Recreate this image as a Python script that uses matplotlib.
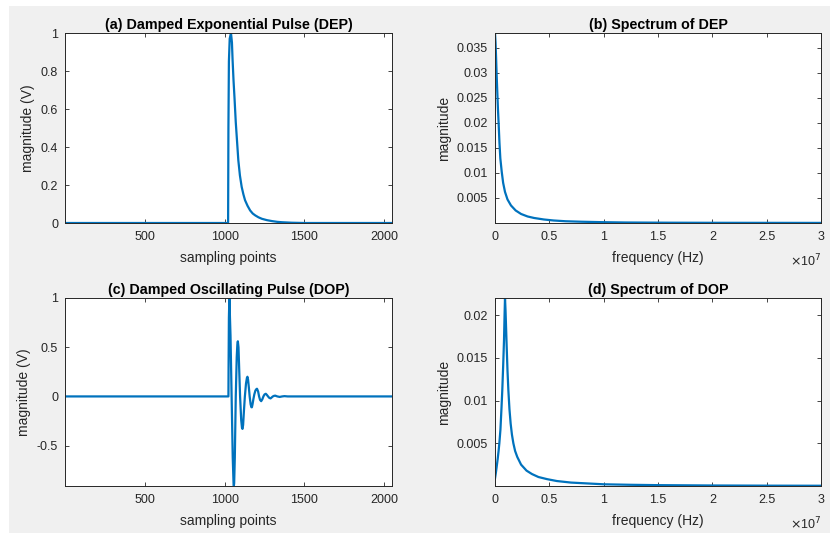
import matplotlib.pyplot as plt
from matplotlib.patches import Rectangle

# values
# (a) damped exponential pulse, time domain
dep_x = [1, 1022, 1024, 1027, 1032, 1040, 1046, 1050, 1056, 1062, 1070, 1078, 1086, 1096, 1107,
         1118, 1128, 1144, 1160, 1176, 1192, 1212, 1234, 1265, 1297, 1330, 1360, 1420, 1500, 2048]
dep_y = [0, 0, 0.5, 0.85, 0.97, 1.0, 0.95, 0.86, 0.75, 0.66, 0.53, 0.43, 0.33, 0.25, 0.19,
         0.15, 0.12, 0.09, 0.066, 0.05, 0.04, 0.03, 0.022, 0.015, 0.01, 0.006, 0.004, 0.0015, 0, 0]

# (b) spectrum of DEP
dep_f = [0, 0.5e5, 1e5, 1.5e5, 2.1e5, 2.7e5, 3.4e5, 4.1e5, 4.9e5, 6.2e5, 7.5e5, 9.2e5, 1.15e6,
         1.47e6, 1.9e6, 2.4e6, 3e6, 3.6e6, 4.5e6, 5.4e6, 6.5e6, 8e6, 1e7, 1.2e7, 1.6e7, 2e7,
         2.5e7, 3e7]
dep_m = [0.0379, 0.036, 0.033, 0.0296, 0.0262, 0.0228, 0.0196, 0.016, 0.0129, 0.0102, 0.008,
         0.0062, 0.0047, 0.0035, 0.0025, 0.0018, 0.0013, 0.001, 0.0007, 0.0005, 0.00035, 0.00025,
         0.00016, 0.0001, 0.00006, 0.00004, 0.00003, 0.00002]

# (c) damped oscillating pulse, time domain
dop_x = [1, 1024, 1025, 1027, 1030, 1037, 1044, 1051, 1056, 1058, 1060, 1064, 1070, 1076, 1080,
         1083, 1087, 1091, 1097, 1104, 1109, 1112, 1116, 1121, 1127, 1134, 1140, 1143, 1147, 1152,
         1157, 1163, 1168, 1171, 1175, 1180, 1186, 1193, 1200, 1203, 1210, 1216, 1222, 1229, 1236,
         1243, 1250, 1258, 1265, 1272, 1280, 1288, 1295, 1302, 1310, 1317, 1330, 1345, 1360, 1375,
         1395, 2048]
dop_y = [0, 0, 0.3, 0.8, 1.0, 0.62, 0.0, -0.62, -0.88, -0.91, -0.88, -0.62, 0.0, 0.4, 0.53,
         0.56, 0.5, 0.3, 0.0, -0.24, -0.32, -0.33, -0.29, -0.15, 0.0, 0.13, 0.19, 0.2, 0.17, 0.09,
         0.0, -0.08, -0.11, -0.11, -0.08, -0.03, 0.02, 0.06, 0.076, 0.078, 0.05, 0.0, -0.035, -0.048, -0.03,
         0.0, 0.02, 0.027, 0.015, 0.0, -0.015, -0.02, -0.01, 0.0, 0.006, 0.008, 0.0, -0.005, 0.0, 0.003,
         0.0, 0.0]

# (d) spectrum of DOP
dop_f = [0, 0.75e5, 1.5e5, 2.5e5, 3.3e5, 4e5, 5e5, 6e5, 6.7e5, 7.5e5, 8.3e5, 8.8e5, 9.2e5, 9.7e5,
         1.02e6, 1.07e6, 1.15e6, 1.23e6, 1.33e6, 1.44e6, 1.56e6, 1.69e6, 1.85e6, 2.05e6, 2.4e6,
         2.9e6, 3.4e6, 4e6, 4.8e6, 5.7e6, 7e6, 8.5e6, 1e7, 1.25e7, 1.5e7, 2e7, 2.5e7, 3e7]
dop_m = [0.00087, 0.0015, 0.0022, 0.0032, 0.0041, 0.005, 0.0066, 0.0092, 0.0112, 0.014, 0.0171,
         0.02, 0.022, 0.0205, 0.0185, 0.0165, 0.0135, 0.0112, 0.009, 0.0073, 0.006, 0.005, 0.0041,
         0.0034, 0.0025, 0.0018, 0.0014, 0.00105, 0.0008, 0.00058, 0.0004, 0.0003, 0.0002, 0.00014,
         0.0001, 0.00006, 0.00004, 0.00003]

# tick positions and labels
samp_ticks = [500, 1000, 1500, 2000]
freq_ticks = [0, 0.5e7, 1e7, 1.5e7, 2e7, 2.5e7, 3e7]
freq_labels = ['0', '0.5', '1', '1.5', '2', '2.5', '3']
dep_yticks = [0, 0.2, 0.4, 0.6, 0.8, 1]
dep_ylabels = ['0', '0.2', '0.4', '0.6', '0.8', '1']
depf_yticks = [0.005, 0.01, 0.015, 0.02, 0.025, 0.03, 0.035]
dop_yticks = [-0.5, 0, 0.5, 1]
dop_ylabels = ['-0.5', '0', '0.5', '1']
dopf_yticks = [0.005, 0.01, 0.015, 0.02]

plt.rcParams['font.family'] = ['Liberation Sans', 'DejaVu Sans']
blue = '#0072BD'
dark = '#262626'

fig = plt.figure(figsize=(8.30, 5.33), dpi=100, facecolor='white')
# MATLAB-grey figure area, white strip on left and top as in the screenshot
fig.patches.append(Rectangle((9 / 830, 0), 1, 1 - 6 / 533, transform=fig.transFigure,
                             facecolor='#f0f0f0', edgecolor='none', zorder=-10))

W, H = 830, 533


def make_axes(l, t, r, b):
    return fig.add_axes([l / W, 1 - b / H, (r - l) / W, (b - t) / H])


ax_a = make_axes(65, 33, 392, 223)
ax_b = make_axes(495, 33, 821, 223)
ax_c = make_axes(65, 298, 392, 486)
ax_d = make_axes(495, 298, 821, 486)

ax_a.plot(dep_x, dep_y, color=blue, lw=1.6)
ax_b.plot(dep_f, dep_m, color=blue, lw=1.6)
ax_c.plot(dop_x, dop_y, color=blue, lw=1.6)
ax_d.plot(dop_f, dop_m, color=blue, lw=1.6)

ax_a.set_xlim(1, 2048)
ax_a.set_ylim(0, 1)
ax_c.set_xlim(1, 2048)
ax_c.set_ylim(-0.91, 1)
ax_b.set_xlim(0, 3e7)
ax_b.set_ylim(0, 0.0379)
ax_d.set_xlim(0, 3e7)
ax_d.set_ylim(0, 0.022)

for ax in [ax_a, ax_c]:
    ax.set_xticks(samp_ticks)
    ax.set_xticklabels([str(t) for t in samp_ticks])
    ax.set_xlabel('sampling points', fontsize=10, color=dark, labelpad=5.5)
    ax.set_ylabel('magnitude (V)', fontsize=10, color=dark)
ax_a.set_yticks(dep_yticks)
ax_a.set_yticklabels(dep_ylabels)
ax_c.set_yticks(dop_yticks)
ax_c.set_yticklabels(dop_ylabels)

for ax in [ax_b, ax_d]:
    ax.set_xticks(freq_ticks)
    ax.set_xticklabels(freq_labels)
    ax.set_xlabel('frequency (Hz)', fontsize=10, color=dark, labelpad=5.5)
    ax.set_ylabel('magnitude', fontsize=10, color=dark)
    ax.text(1.0, -0.2, r'$\times$10$^7$', transform=ax.transAxes, ha='right', va='center',
            fontsize=9, color=dark)
ax_b.set_yticks(depf_yticks)
ax_b.set_yticklabels([f'{t:g}' for t in depf_yticks])
ax_d.set_yticks(dopf_yticks)
ax_d.set_yticklabels([f'{t:g}' for t in dopf_yticks])

titles = ['(a) Damped Exponential Pulse (DEP)', '(b) Spectrum of DEP',
          '(c) Damped Oscillating Pulse (DOP)', '(d) Spectrum of DOP']
for ax, title in zip([ax_a, ax_b, ax_c, ax_d], titles):
    ax.set_title(title, fontsize=10.3, fontweight='bold', color='black', pad=3)
    ax.tick_params(direction='in', top=True, right=True, length=3, width=0.6,
                   labelsize=9, colors=dark, labelcolor=dark)
    ax.tick_params(axis='x', pad=5.7)
    ax.tick_params(axis='y', pad=5)
    for s in ax.spines.values():
        s.set_color(dark)
        s.set_linewidth(0.7)

fig.savefig('out.png', dpi=100, facecolor=fig.get_facecolor())
